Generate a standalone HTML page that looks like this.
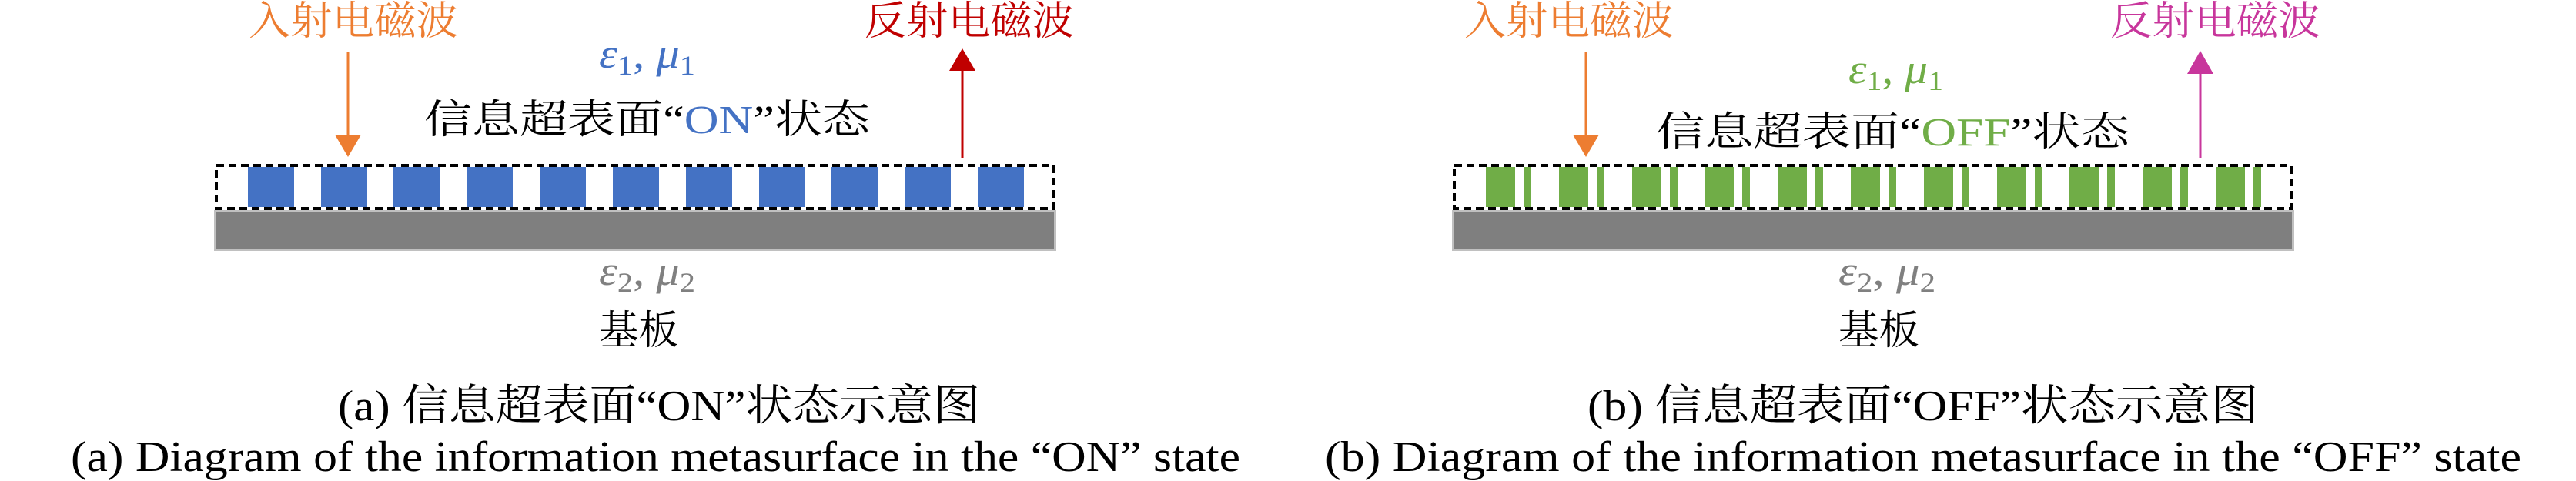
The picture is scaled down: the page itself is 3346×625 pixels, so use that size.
<!DOCTYPE html>
<html><head><meta charset="utf-8"><style>
html,body{margin:0;padding:0;background:#fff;}
svg{display:block;}
.cj{font-family:"Liberation Serif","Noto Serif CJK SC","Noto Sans CJK SC",serif;}
.ser{font-family:"Liberation Serif",serif;}
</style></head><body>
<svg width="3346" height="625" viewBox="0 0 3346 625" xmlns="http://www.w3.org/2000/svg">
<!-- ===== Left panel ===== -->
<text class="cj" x="323" y="45" font-size="52" fill="#ED7D31" textLength="272" lengthAdjust="spacingAndGlyphs">入射电磁波</text>
<text class="cj" x="1123" y="45" font-size="52" fill="#C00000" textLength="272" lengthAdjust="spacingAndGlyphs">反射电磁波</text>
<text class="ser" x="778" y="88" font-size="54" fill="#4472C4" font-style="italic" textLength="125" lengthAdjust="spacingAndGlyphs">ε<tspan font-size="36" font-style="normal" dy="9">1</tspan><tspan dy="-9" font-style="normal">, </tspan>μ<tspan font-size="36" font-style="normal" dy="9">1</tspan></text>
<text class="cj" x="551" y="173" font-size="52" fill="#000" textLength="579" lengthAdjust="spacingAndGlyphs">信息超表面“<tspan fill="#4472C4">ON</tspan>”状态</text>
<line x1="452" y1="68" x2="452" y2="178" stroke="#ED7D31" stroke-width="3"/>
<polygon points="435,175 469,175 452,204" fill="#ED7D31"/>
<line x1="1250" y1="205" x2="1250" y2="90" stroke="#C00000" stroke-width="3"/>
<polygon points="1233,92 1267,92 1250,63" fill="#C00000"/>
<rect x="279.5" y="274.5" width="1091" height="50" fill="#7f7f7f" stroke="#c0c0c0" stroke-width="3"/>
<g fill="#4472C4">
<rect x="322" y="217" width="60" height="52"/><rect x="417" y="217" width="60" height="52"/><rect x="511" y="217" width="60" height="52"/><rect x="606" y="217" width="60" height="52"/><rect x="701" y="217" width="60" height="52"/><rect x="796" y="217" width="60" height="52"/><rect x="891" y="217" width="60" height="52"/><rect x="986" y="217" width="60" height="52"/><rect x="1080" y="217" width="60" height="52"/><rect x="1175" y="217" width="60" height="52"/><rect x="1270" y="217" width="60" height="52"/>
</g>
<rect x="281" y="215" width="1088" height="56" fill="none" stroke="#000" stroke-width="4" stroke-dasharray="10 6"/>
<text class="ser" x="778" y="370" font-size="54" fill="#808080" font-style="italic" textLength="125" lengthAdjust="spacingAndGlyphs">ε<tspan font-size="36" font-style="normal" dy="9">2</tspan><tspan dy="-9" font-style="normal">, </tspan>μ<tspan font-size="36" font-style="normal" dy="9">2</tspan></text>
<text class="cj" x="778" y="447" font-size="52" fill="#000" textLength="103" lengthAdjust="spacingAndGlyphs">基板</text>
<text class="cj" x="439" y="546" font-size="56" fill="#000" textLength="834" lengthAdjust="spacingAndGlyphs">(a) 信息超表面“ON”状态示意图</text>
<text class="ser" x="92" y="612" font-size="56" fill="#000" textLength="1519" lengthAdjust="spacingAndGlyphs">(a) Diagram of the information metasurface in the “ON” state</text>

<!-- ===== Right panel ===== -->
<text class="cj" x="1902" y="45" font-size="52" fill="#ED7D31" textLength="272" lengthAdjust="spacingAndGlyphs">入射电磁波</text>
<text class="cj" x="2741" y="45" font-size="52" fill="#C8369C" textLength="273" lengthAdjust="spacingAndGlyphs">反射电磁波</text>
<text class="ser" x="2401" y="108" font-size="54" fill="#70AD47" font-style="italic" textLength="123" lengthAdjust="spacingAndGlyphs">ε<tspan font-size="36" font-style="normal" dy="9">1</tspan><tspan dy="-9" font-style="normal">, </tspan>μ<tspan font-size="36" font-style="normal" dy="9">1</tspan></text>
<text class="cj" x="2151" y="189" font-size="52" fill="#000" textLength="615" lengthAdjust="spacingAndGlyphs">信息超表面“<tspan fill="#70AD47">OFF</tspan>”状态</text>
<line x1="2060" y1="68" x2="2060" y2="178" stroke="#ED7D31" stroke-width="3"/>
<polygon points="2043,175 2077,175 2060,204" fill="#ED7D31"/>
<line x1="2858" y1="205" x2="2858" y2="92" stroke="#C8369C" stroke-width="3"/>
<polygon points="2841,96 2875,96 2858,66" fill="#C8369C"/>
<rect x="1887.5" y="274.5" width="1091" height="50" fill="#7f7f7f" stroke="#c0c0c0" stroke-width="3"/>
<g fill="#70AD47">
<rect x="1930" y="217" width="38" height="52"/><rect x="1979" y="217" width="10" height="52"/>
<rect x="2025" y="217" width="38" height="52"/><rect x="2074" y="217" width="10" height="52"/>
<rect x="2120" y="217" width="38" height="52"/><rect x="2169" y="217" width="10" height="52"/>
<rect x="2214" y="217" width="38" height="52"/><rect x="2263" y="217" width="10" height="52"/>
<rect x="2309" y="217" width="38" height="52"/><rect x="2358" y="217" width="10" height="52"/>
<rect x="2404" y="217" width="38" height="52"/><rect x="2453" y="217" width="10" height="52"/>
<rect x="2499" y="217" width="38" height="52"/><rect x="2548" y="217" width="10" height="52"/>
<rect x="2594" y="217" width="38" height="52"/><rect x="2643" y="217" width="10" height="52"/>
<rect x="2688" y="217" width="38" height="52"/><rect x="2737" y="217" width="10" height="52"/>
<rect x="2783" y="217" width="38" height="52"/><rect x="2832" y="217" width="10" height="52"/>
<rect x="2878" y="217" width="38" height="52"/><rect x="2927" y="217" width="10" height="52"/>
</g>
<rect x="1889" y="215" width="1087" height="56" fill="none" stroke="#000" stroke-width="4" stroke-dasharray="10 6"/>
<text class="ser" x="2388" y="370" font-size="54" fill="#808080" font-style="italic" textLength="126" lengthAdjust="spacingAndGlyphs">ε<tspan font-size="36" font-style="normal" dy="9">2</tspan><tspan dy="-9" font-style="normal">, </tspan>μ<tspan font-size="36" font-style="normal" dy="9">2</tspan></text>
<text class="cj" x="2388" y="447" font-size="52" fill="#000" textLength="105" lengthAdjust="spacingAndGlyphs">基板</text>
<text class="cj" x="2062" y="546" font-size="56" fill="#000" textLength="871" lengthAdjust="spacingAndGlyphs">(b) 信息超表面“OFF”状态示意图</text>
<text class="ser" x="1721" y="612" font-size="56" fill="#000" textLength="1554" lengthAdjust="spacingAndGlyphs">(b) Diagram of the information metasurface in the “OFF” state</text>
</svg>
</body></html>
